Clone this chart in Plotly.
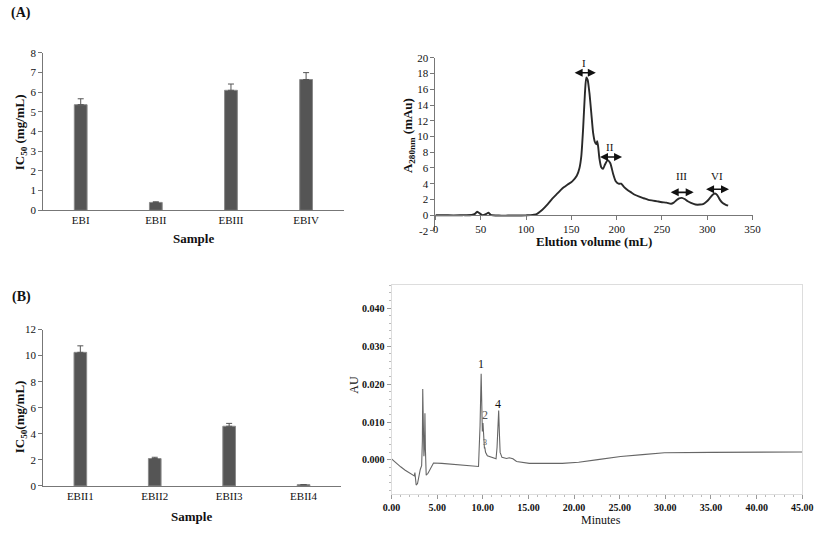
import plotly.graph_objects as go

# ---------------- data ----------------
# Panel A (left): IC50 of fractions
cats_a = ["EBI", "EBII", "EBIII", "EBIV"]
ic50_a = [5.37, 0.40, 6.10, 6.65]
err_a = [0.30, 0.03, 0.32, 0.35]

# Panel A (right): gel filtration chromatogram
elution_vol = [0, 10, 20, 30, 40, 44, 46, 48, 52, 56,
               58.5, 61, 70, 80, 90, 100, 105, 111, 118, 124,
               129, 135, 140, 146, 151, 156, 159, 161, 163, 165,
               166.5, 168, 170, 172, 174, 176, 177.5, 178.5, 179.5, 181,
               183, 185, 187, 190, 193, 196, 199, 202, 205, 208,
               212, 216, 220, 225, 230, 235, 240, 245, 250, 255,
               260, 263, 266, 269, 272, 275, 278, 282, 287, 292,
               296, 300, 303, 306, 308.5, 311, 314, 317, 320, 323]
a280 = [0, 0, -0.02, 0, 0.02, 0.2, 0.45, 0.3, 0.0, 0.15,
        0.3, 0.05, -0.05, -0.05, -0.05, -0.02, 0.0, 0.1, 0.7, 1.4,
        2.1, 2.8, 3.4, 3.9, 4.3, 5.0, 6.0, 7.5, 11.0, 15.5,
        17.5, 17.2, 15.5, 13.0, 10.5, 9.3, 9.0, 9.4, 8.8, 7.2,
        6.1, 5.9, 6.4, 7.0, 6.6, 5.3, 4.3, 4.0, 4.0, 3.6,
        3.2, 2.9, 2.6, 2.35, 2.15, 1.95, 1.85, 1.75, 1.65, 1.6,
        1.45, 1.6, 1.9, 2.15, 2.2, 2.05, 1.8, 1.55, 1.35, 1.35,
        1.45, 1.8, 2.2, 2.6, 2.75, 2.55, 1.95, 1.55, 1.35, 1.2]
a280_ticks = [-2, 0, 2, 4, 6, 8, 10, 12, 14, 16, 18, 20]
frac_names = ["I", "II", "III", "VI"]
frac_start = [152, 180, 258, 297]
frac_end = [177, 206, 285, 324]
frac_arrow_y = [18.1, 7.4, 2.9, 3.3]
frac_label_y = [19.3, 8.6, 5.0, 5.0]

# Panel B (left): IC50 of sub-fractions
cats_b = ["EBII1", "EBII2", "EBII3", "EBII4"]
ic50_b = [10.25, 2.10, 4.58, 0.10]
err_b = [0.50, 0.10, 0.22, 0.0]

# Panel B (right): HPLC chromatogram
minutes = [0, 0.5, 1.0, 1.5, 2.0, 2.5, 2.56, 2.62, 2.7, 2.85,
           3.0, 3.15, 3.3, 3.38, 3.42, 3.47, 3.55, 3.62, 3.66, 3.71,
           3.8, 4.0, 4.3, 4.6, 5.5, 7.3, 9.53, 9.6, 9.7, 9.82,
           9.9, 9.95, 10.02, 10.1, 10.18, 10.22, 10.3, 10.5, 11.0, 11.45,
           11.56, 11.65, 11.74, 11.82, 11.9, 12.1, 12.6, 12.9, 13.3, 13.7,
           15.1, 18.7, 20.5, 22.6, 25.1, 27.5, 29.9, 35, 40, 45]
au = [0.0003, -0.0008, -0.0018, -0.0027, -0.0035, -0.0042, -0.0033, -0.0060, -0.0066, -0.0062,
      -0.0040, -0.0025, -0.0015, 0.0050, 0.0187, 0.0080, 0.0010, 0.0040, 0.0123, 0.0030,
      -0.0040, -0.0035, -0.0020, -0.0008, -0.0009, -0.0012, -0.0017, 0.0028, 0.0090, 0.0227,
      0.0100, 0.0075, 0.0097, 0.0045, 0.0030, 0.0033, 0.0020, 0.0011, 0.0006, 0.0003,
      0.0033, 0.0090, 0.0130, 0.0070, 0.0020, 0.0007, 0.0004, 0.0006, 0.0003, -0.0004,
      -0.0009, -0.0009, -0.0006, 0.0001, 0.0009, 0.0014, 0.0019, 0.0020, 0.0020, 0.0021]
peak_labels = ["1", "2", "3", "4"]
peak_x = [9.76, 10.26, 10.25, 11.65]
peak_y = [0.0253, 0.0119, 0.0047, 0.0148]

# ---------------- figure ----------------
SERIF = "Liberation Serif"
BAR_FILL = "#555555"
fig = go.Figure()

fig.add_trace(go.Bar(
    x=cats_a, y=ic50_a, width=0.17, marker=dict(color=BAR_FILL, line=dict(color="#8a8a8a", width=1)),
    error_y=dict(type="data", array=err_a, arrayminus=[0]*len(err_a), symmetric=False,
                 color="#555", thickness=1, width=3),
    xaxis="x", yaxis="y", showlegend=False))

fig.add_trace(go.Scatter(
    x=elution_vol, y=a280, mode="lines", line=dict(color="#2a2a2a", width=1.9, shape="spline", smoothing=0.6),
    xaxis="x2", yaxis="y2", showlegend=False))

fig.add_trace(go.Bar(
    x=cats_b, y=ic50_b, width=0.17, marker=dict(color=BAR_FILL, line=dict(color="#8a8a8a", width=1)),
    error_y=dict(type="data", array=err_b, arrayminus=[0]*len(err_b), symmetric=False,
                 color="#555", thickness=1, width=3),
    xaxis="x3", yaxis="y3", showlegend=False))

fig.add_trace(go.Scatter(
    x=minutes, y=au, mode="lines", line=dict(color="#666", width=1.1),
    xaxis="x4", yaxis="y4", showlegend=False))

tickf = dict(family=SERIF, size=11, color="#111")
axline = "#777"

y0_a2 = (0 - (-2)) / 22.0
dom_y2 = [0.5683, 0.9006]

fig.update_layout(
    width=827, height=533, margin=dict(l=0, r=0, t=0, b=0), autosize=False,
    paper_bgcolor="white", plot_bgcolor="white",
    font=dict(family=SERIF, color="#111"),
    xaxis=dict(domain=[0.0423, 0.4147], anchor="y", range=[-0.5, 3.5], showline=True, linecolor=axline,
               ticks="", tickfont=tickf, showgrid=False, zeroline=False),
    yaxis=dict(domain=[0.6079, 0.9099], anchor="x", range=[0, 8], dtick=1, showline=True, linecolor=axline,
               ticks="outside", ticklen=4, tickcolor=axline, tickfont=tickf, showgrid=False, zeroline=False),
    xaxis2=dict(domain=[0.5284, 0.9214], anchor="free",
                position=dom_y2[0] + y0_a2 * (dom_y2[1] - dom_y2[0]),
                range=[0, 350], dtick=50, showline=True, linecolor=axline, ticks="outside", ticklen=4,
                tickcolor=axline, tickfont=tickf, showgrid=False, zeroline=False),
    yaxis2=dict(domain=dom_y2, anchor="x2", range=[-2, 20], tickvals=a280_ticks,
                ticktext=[str(v) for v in a280_ticks], showline=True, linecolor=axline,
                ticks="outside", ticklen=4, tickcolor=axline, tickfont=tickf, showgrid=False, zeroline=False),
    xaxis3=dict(domain=[0.0423, 0.4111], anchor="y3", range=[-0.5, 3.5], showline=True, linecolor=axline,
                ticks="", tickfont=tickf, showgrid=False, zeroline=False),
    yaxis3=dict(domain=[0.0788, 0.379], anchor="x3", range=[0, 12], dtick=2, showline=True, linecolor=axline,
                ticks="outside", ticklen=4, tickcolor=axline, tickfont=tickf, showgrid=False, zeroline=False),
    xaxis4=dict(domain=[0.474, 0.983], anchor="y4", range=[0, 45], dtick=5, tick0=0, tickformat=".2f",
                showline=True, mirror=True, linecolor="#dddddd", ticks="outside", ticklen=4, tickcolor="#999",
                tickfont=dict(family=SERIF, size=10, color="#111", weight="bold"),
                minor=dict(ticks="outside", ticklen=2, dtick=1, tickcolor="#bbb"),
                showgrid=False, zeroline=False),
    yaxis4=dict(domain=[0.0638, 0.4653], anchor="x4", range=[-0.0089, 0.0462], dtick=0.01, tick0=0,
                tickformat=".3f", showline=True, mirror=True, linecolor="#dddddd", ticks="outside", ticklen=4,
                tickcolor="#999", tickfont=dict(family=SERIF, size=10, color="#111", weight="bold"),
                minor=dict(ticks="outside", ticklen=2, dtick=0.002, tickcolor="#bbb"),
                showgrid=False, zeroline=False),
)

ann = []
def ptext(text, x, y, size=13, angle=0, bold=True):
    ann.append(dict(text=(f"<b>{text}</b>" if bold else text), x=x, y=y, xref="paper", yref="paper",
                    showarrow=False, textangle=angle, xanchor="center", yanchor="middle",
                    font=dict(family=SERIF, size=size, color="#111")))

ptext("(A)", 0.0150, 0.986, size=14)
ptext("(B)", 0.0150, 0.441, size=14)
ptext("IC<sub>50</sub> (mg/mL)", 0.0145, 0.757, size=13, angle=-90)
ptext("Sample", 0.2285, 0.5535, size=13)
ptext("IC<sub>50</sub>(mg/mL)", 0.0145, 0.212, size=13, angle=-90)
ptext("Sample", 0.2267, 0.0206, size=13)
ptext("A<sub>280nm</sub> (mAu)", 0.4958, 0.7505, size=13, angle=-90)
ptext("Elution volume (mL)", 0.7255, 0.548, size=13)
ptext("AU", 0.428, 0.274, size=12, angle=-90, bold=False)
ptext("Minutes", 0.734, 0.0135, size=12, bold=False)

for name, xs, xe, ya, yl in zip(frac_names, frac_start, frac_end, frac_arrow_y, frac_label_y):
    ann.append(dict(x=xe, y=ya, ax=xs, ay=ya, xref="x2", yref="y2", axref="x2", ayref="y2",
                    text="", showarrow=True, arrowhead=2, arrowside="end+start", arrowsize=1,
                    arrowwidth=1.6, arrowcolor="#111"))
    ann.append(dict(x=(xs + xe) / 2, y=yl, xref="x2", yref="y2", text=name, showarrow=False,
                    font=dict(family=SERIF, size=11, color="#111")))

for lab, px, py in zip(peak_labels, peak_x, peak_y):
    ann.append(dict(x=px, y=py, xref="x4", yref="y4", text=lab, showarrow=False,
                    font=dict(family=SERIF, size=(12 if lab != "3" else 8),
                              color=("#111" if lab in ("1", "4") else "#555"))))

fig.update_layout(annotations=ann)
fig.write_html("out.html", config={"displayModeBar": False},
               post_script="document.body.style.margin='0px';")
